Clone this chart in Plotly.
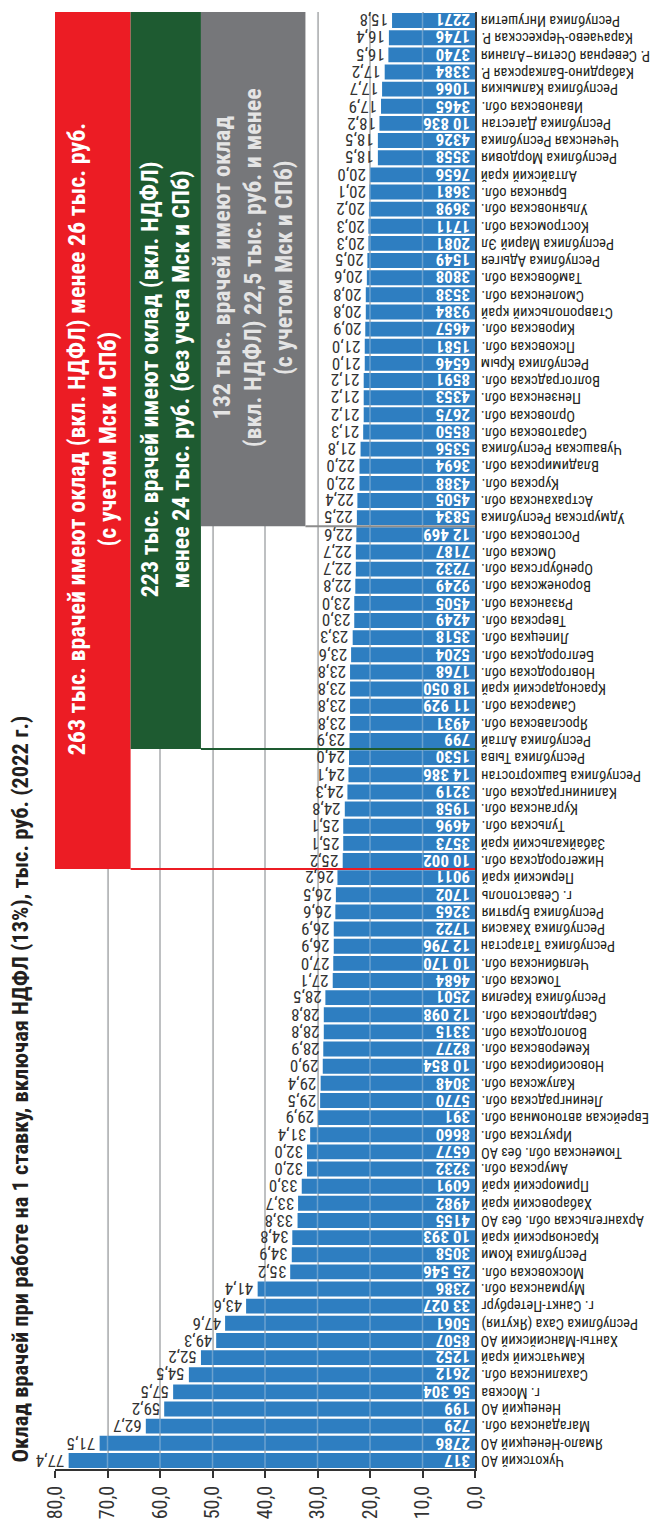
import plotly.graph_objects as go

# Regions, ordered from the highest salary to the lowest
regions = [
    "Чукотский АО", "Ямало-Ненецкий АО", "Магаданская обл.", "Ненецкий АО", "г. Москва",
    "Сахалинская обл.", "Камчатский край", "Ханты-Мансийский АО", "Республика Саха (Якутия)",
    "г. Санкт-Петербург", "Мурманская обл.", "Московская обл.", "Республика Коми",
    "Красноярский край", "Архангельская обл. без АО", "Хабаровский край", "Приморский край",
    "Амурская обл.", "Тюменская обл. без АО", "Иркутская обл.", "Еврейская автономная обл.",
    "Ленинградская обл.", "Калужская обл.", "Новосибирская обл.", "Кемеровская обл.",
    "Вологодская обл.", "Свердловская обл.", "Республика Карелия", "Томская обл.",
    "Челябинская обл.", "Республика Татарстан", "Республика Хакасия", "Республика Бурятия",
    "г. Севастополь", "Пермский край", "Нижегородская обл.", "Забайкальский край",
    "Тульская обл.", "Курганская обл.", "Калининградская обл.", "Республика Башкортостан",
    "Республика Тыва", "Республика Алтай", "Ярославская обл.", "Самарская обл.",
    "Краснодарский край", "Новгородская обл.", "Белгородская обл.", "Липецкая обл.",
    "Тверская обл.", "Рязанская обл.", "Воронежская обл.", "Оренбургская обл.", "Омская обл.",
    "Ростовская обл.", "Удмуртская Республика", "Астраханская обл.", "Курская обл.",
    "Владимирская обл.", "Чувашская Республика", "Саратовская обл.", "Орловская обл.",
    "Пензенская обл.", "Волгоградская обл.", "Республика Крым", "Псковская обл.",
    "Кировская обл.", "Ставропольский край", "Смоленская обл.", "Тамбовская обл.",
    "Республика Адыгея", "Республика Марий Эл", "Костромская обл.", "Ульяновская обл.",
    "Брянская обл.", "Алтайский край", "Республика Мордовия", "Чеченская Республика",
    "Республика Дагестан", "Ивановская обл.", "Республика Калмыкия",
    "Кабардино-Балкарская Р.", "Р. Северная Осетия–Алания", "Карачаево-Черкесская Р.",
    "Республика Ингушетия",
]

# Salary, thousand roubles
salary = [
    77.4, 71.5, 62.7, 59.2, 57.5, 54.5, 52.2, 49.3, 47.6, 43.6, 41.4, 35.2, 34.9, 34.8, 33.8,
    33.7, 33.0, 32.0, 32.0, 31.4, 29.9, 29.5, 29.4, 29.0, 28.9, 28.8, 28.8, 28.5, 27.1, 27.0,
    26.9, 26.9, 26.6, 26.5, 26.2, 25.2, 25.1, 25.1, 24.8, 24.3, 24.1, 24.0, 23.9, 23.8, 23.8,
    23.8, 23.8, 23.6, 23.3, 23.0, 23.0, 22.8, 22.7, 22.7, 22.6, 22.5, 22.4, 22.0, 22.0, 21.8,
    21.3, 21.2, 21.2, 21.2, 21.0, 21.0, 20.9, 20.8, 20.8, 20.6, 20.5, 20.3, 20.3, 20.2, 20.1,
    20.0, 18.5, 18.5, 18.2, 17.9, 17.7, 17.2, 16.5, 16.4, 15.8,
]

# Number of doctors
doctors = [
    317, 2786, 729, 199, 56304, 2612, 1252, 8507, 5061, 33027, 2386, 25546, 3058, 10393, 4155,
    4982, 6091, 3232, 6577, 8660, 391, 5770, 3048, 10854, 8277, 3315, 12098, 2501, 4684, 10170,
    12796, 1722, 3265, 1702, 9011, 10002, 3573, 4696, 1958, 3219, 14386, 1530, 799, 4931, 11929,
    18050, 1768, 5204, 3518, 4249, 4505, 9249, 7232, 7187, 12469, 5834, 4505, 4388, 3694, 5356,
    8550, 2675, 4353, 8591, 6546, 1581, 4657, 9384, 3538, 3808, 1549, 2081, 1711, 3698, 3681,
    7656, 3558, 4326, 10836, 3465, 1066, 3384, 3740, 1746, 2271,
]

x_ticks = [0, 10, 20, 30, 40, 50, 60, 70, 80]
x_tick_labels = ["0,0", "10,0", "20,0", "30,0", "40,0", "50,0", "60,0", "70,0", "80,0"]

title_text = "Оклад врачей при работе на 1 ставку, включая НДФЛ (13%), тыс. руб. (2022 г.)"

FONT = "Roboto Condensed, Roboto, sans-serif"
BAR = "#2e7ec1"
RED = "#ec1c24"
GREEN = "#1e5b31"
GREY = "#76777a"
DARK = "#231f20"


def fmt_salary(v):
    return f"{v:.1f}".replace(".", ",")


def fmt_count(n):
    return f"{n:,}".replace(",", " ") if n >= 10000 else str(n)


fig = go.Figure(
    go.Bar(
        x=salary,
        y=regions,
        orientation="h",
        marker=dict(color=BAR, line=dict(width=0)),
        hoverinfo="skip",
    )
)

annotations = []
for name, v, n in zip(regions, salary, doctors):
    # region name beside the zero line
    annotations.append(dict(
        x=0, y=name, xref="x", yref="y", text=name, textangle=180,
        xanchor="left", yanchor="middle", xshift=4, showarrow=False,
        font=dict(family=FONT, size=14.5, color=DARK),
    ))
    # doctors count inside the bar
    annotations.append(dict(
        x=0, y=name, xref="x", yref="y", text=fmt_count(n), textangle=180,
        xanchor="right", yanchor="middle", xshift=-3, showarrow=False,
        font=dict(family=FONT, size=17, color="white", weight="bold"),
    ))
    # salary value past the bar end
    annotations.append(dict(
        x=v, y=name, xref="x", yref="y", text=fmt_salary(v), textangle=180,
        xanchor="right", yanchor="middle", xshift=-2, showarrow=False,
        font=dict(family=FONT, size=17, color="#333333"),
    ))

# chart title along the left edge
annotations.append(dict(
    x=0, y=0, xref="paper", yref="paper", text=title_text, textangle=-90,
    xanchor="center", yanchor="bottom", xshift=-36, yshift=4, showarrow=False,
    font=dict(family=FONT, size=22.5, color=DARK, weight="bold"),
))

# threshold panels: (x from, x to, boundary row, colour, text colour, text)
box_top = 84.62
panels = [
    (80.0, 65.6, 34.5, RED, "white",
     "263 тыс. врачей имеют оклад (вкл. НДФЛ) менее 26 тыс. руб.<br>(с учетом Мск и СПб)"),
    (65.6, 52.2, 41.5, GREEN, "white",
     "223 тыс. врачей имеют оклад (вкл. НДФЛ)<br>менее 24 тыс. руб. (без учета Мск и СПб)"),
    (52.2, 32.3, 54.5, GREY, "#e4e4e4",
     "132 тыс. врачей имеют оклад<br>(вкл. НДФЛ) 22,5 тыс. руб. и менее<br>(с учетом Мск и СПб)"),
]

shapes = []
# light grid lines showing through the bars
for t in x_ticks[1:-1]:
    shapes.append(dict(
        type="line", xref="x", yref="y", x0=t, x1=t, y0=-0.5, y1=84.5,
        line=dict(color="rgba(220,225,235,0.35)", width=1.5), layer="above",
    ))

for x0, x1, row, col, tcol, txt in panels:
    shapes.append(dict(
        type="rect", xref="x", yref="y", x0=x0, x1=x1, y0=row, y1=box_top,
        fillcolor=col, line=dict(width=0), layer="above",
    ))
    shapes.append(dict(
        type="line", xref="x", yref="y", x0=x1, x1=0, y0=row, y1=row,
        line=dict(color=col if col != GREY else "#8c8c8c", width=2), layer="above",
    ))
    annotations.append(dict(
        x=(x0 + x1) / 2, y=(row + box_top) / 2, xref="x", yref="y", text=txt,
        textangle=-90, align="center", xanchor="center", yanchor="middle",
        showarrow=False,
        font=dict(family=FONT, size=24, color=tcol, weight="bold"),
    ))

fig.update_layout(
    width=657,
    height=1531,
    margin=dict(l=55, r=182, t=12, b=52),
    paper_bgcolor="white",
    plot_bgcolor="white",
    bargap=0.13,
    showlegend=False,
    annotations=annotations,
    shapes=shapes,
    xaxis=dict(
        range=[80, 0],
        tickvals=x_ticks,
        ticktext=x_tick_labels,
        tickangle=-90,
        ticks="outside",
        ticklen=7,
        tickwidth=1.5,
        tickcolor="#333333",
        showline=True,
        linecolor="#333333",
        linewidth=1.5,
        showgrid=True,
        gridcolor="#b4b4b4",
        gridwidth=1.5,
        zeroline=False,
        tickfont=dict(family=FONT, size=20, color="#333333"),
    ),
    yaxis=dict(
        categoryorder="array",
        categoryarray=regions,
        range=[-0.5, 84.5],
        side="right",
        showticklabels=False,
        ticks="",
        showline=True,
        linecolor="#333333",
        linewidth=1.5,
        showgrid=False,
        zeroline=False,
    ),
)

fig.write_html("out.html")
